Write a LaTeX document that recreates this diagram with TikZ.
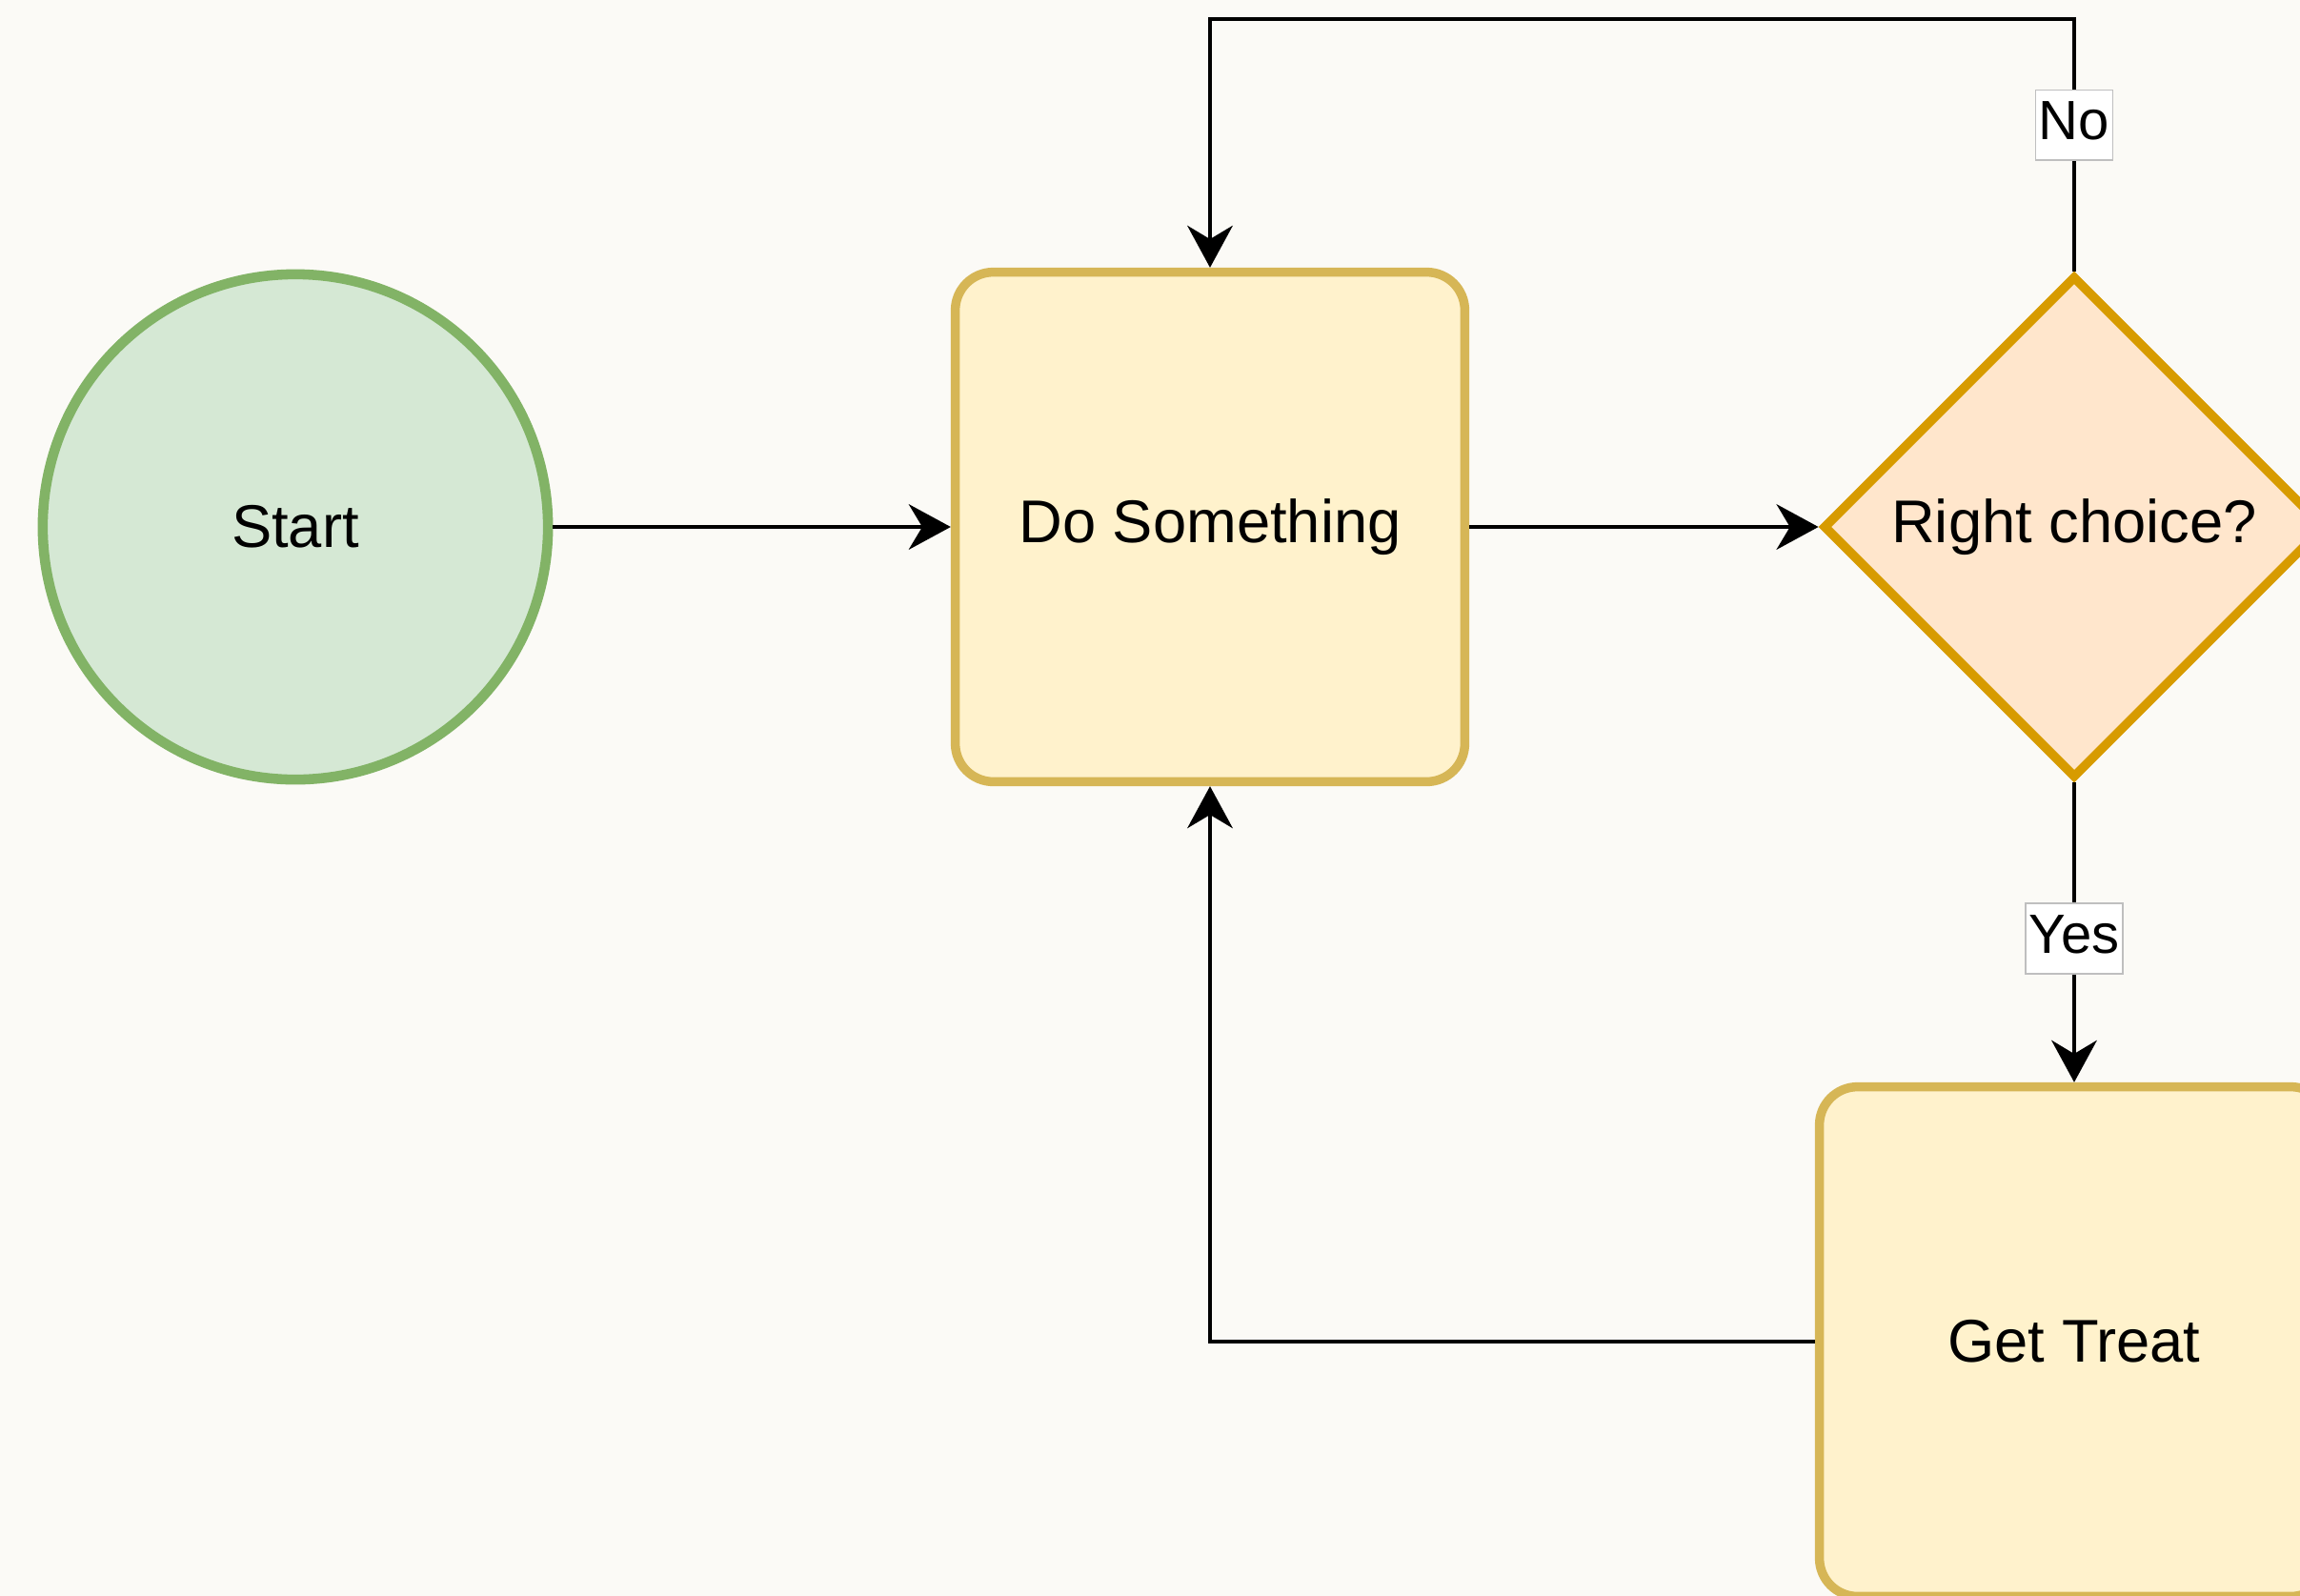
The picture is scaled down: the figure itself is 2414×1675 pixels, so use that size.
\documentclass[tikz,border=0pt]{standalone}
\usepackage{fontspec}
\setmainfont{Liberation Sans}
\usepackage{xcolor}
\usetikzlibrary{arrows.meta,shapes.geometric}

\definecolor{bgcol}{HTML}{FBFAF6}
\definecolor{startfill}{HTML}{D5E8D4}
\definecolor{startline}{HTML}{82B366}
\definecolor{stepfill}{HTML}{FFF2CC}
\definecolor{stepline}{HTML}{D6B656}
\definecolor{choicefill}{HTML}{FFE6CC}
\definecolor{choiceline}{HTML}{D79B00}

\begin{document}
\begin{tikzpicture}[
    x=0.01cm, y=-0.01cm,
    every node/.style={align=center, font=\fontsize{18}{21.6}\selectfont},
    startnode/.style={circle, draw=startline, fill=startfill, line width=3pt, minimum size=5.30cm, inner sep=0pt},
    stepbox/.style={rectangle, rounded corners=0.4cm, draw=stepline, fill=stepfill, line width=2.7pt, minimum size=5.345cm, inner sep=0pt},
    choice/.style={diamond, aspect=1, draw=choiceline, fill=choicefill, line width=2.7pt, minimum size=5.27cm, inner sep=0pt},
    conn/.style={draw=black, line width=1.4pt, -{Stealth[length=12.5pt, width=13.5pt, inset=4pt]}},
    edgelabel/.style={fill=white, draw=black!25, line width=0.4pt, font=\fontsize{16.5}{19.8}\selectfont, inner xsep=1pt, inner ysep=2.5pt, text height=12.5pt, text depth=3.5pt}
]
\useasboundingbox (0,0) rectangle (2414,1675);
\clip (0,0) rectangle (2414,1675);
\fill[bgcol] (0,0) rectangle (2414,1675);

% steps
\node[startnode] (start) at (310,553) {Start};
\node[stepbox] (do) at (1270,553) {Do Something};
\node[choice] (choice) at (2177,553) {Right choice?};
\node[stepbox] (treat) at (2177,1408) {Get Treat};
\coordinate (loopup) at (1270,20);

% connectors
\draw[conn] (start) -- (do);
\draw[conn] (do) -- (choice);
\draw[conn] (choice.north) |- node[edgelabel, pos=0.29] {No} (loopup) -- (do.north);
\draw[conn] (choice.south) -- node[edgelabel, pos=0.52] {Yes} (treat.north);
\draw[conn] (treat.west) -| (do.south);
\end{tikzpicture}
\end{document}
